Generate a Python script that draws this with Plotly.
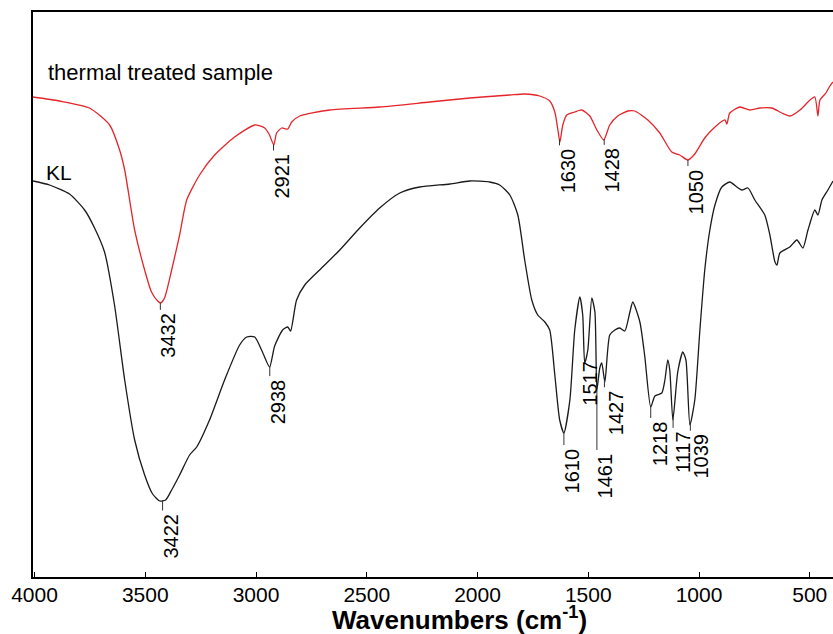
import plotly.graph_objects as go
import numpy as np

# ---- data (wavenumber cm-1, transmittance in arbitrary units) ----
thermal_wn = [4007, 3887, 3752, 3661, 3616, 3593, 3548, 3503, 3472, 3444, 3431, 3413, 3381, 3345,
              3313, 3255, 3187, 3097, 3006, 2961, 2939, 2920, 2907, 2884, 2857, 2839, 2803, 2667,
              2442, 2216, 2035, 1854, 1787, 1719, 1674, 1651, 1637, 1628, 1615, 1597, 1561, 1529,
              1493, 1461, 1430, 1403, 1367, 1321, 1290, 1231, 1177, 1123, 1087, 1050, 1019, 974,
              928, 883, 874, 861, 816, 770, 725, 671, 626, 590, 544, 499, 477, 463, 454, 427, 409, 395]
thermal_T = [480, 476, 469, 452, 427, 407, 347, 307, 285, 276, 274, 279, 307, 342,
             377, 402, 422, 440, 452, 449, 442, 432, 444, 449, 448, 455, 461, 467,
             470, 475, 479, 482, 483, 481, 476, 465, 447, 435, 452, 462, 465, 467,
             461, 447, 437, 452, 461, 466, 466, 457, 444, 425, 422, 417, 423, 439,
             450, 457, 453, 464, 470, 467, 469, 469, 464, 461, 467, 477, 480, 461, 477, 484, 491, 495]

kl_wn = [4007, 3932, 3842, 3774, 3729, 3684, 3639, 3593, 3548, 3503, 3467, 3435, 3408, 3381,
         3345, 3300, 3268, 3210, 3142, 3074, 3042, 3006, 2975, 2939, 2916, 2880, 2857, 2844,
         2817, 2780, 2713, 2622, 2532, 2442, 2351, 2261, 2125, 2035, 1945, 1900, 1854, 1818,
         1787, 1755, 1728, 1696, 1674, 1651, 1629, 1610, 1583, 1561, 1538, 1525, 1516, 1502,
         1484, 1470, 1461, 1448, 1439, 1425, 1403, 1380, 1358, 1335, 1312, 1299, 1267, 1245,
         1218, 1199, 1168, 1154, 1141, 1132, 1118, 1096, 1073, 1059, 1041, 1019, 996, 974,
         951, 928, 897, 861, 829, 807, 779, 748, 703, 680, 657, 648, 635, 590, 558, 531,
         508, 477, 463, 445, 418, 395]
kl_T = [396, 392, 383, 367, 349, 325, 272, 197, 137, 102, 83, 76, 77, 87,
        102, 122, 130, 157, 197, 232, 240, 240, 227, 210, 231, 247, 250, 246,
        277, 292, 307, 327, 349, 369, 384, 390, 393, 396, 395, 392, 382, 362,
        317, 277, 262, 255, 247, 202, 157, 144, 177, 247, 280, 262, 214, 227,
        279, 265, 187, 209, 214, 195, 242, 247, 249, 246, 265, 275, 255, 221,
        170, 181, 184, 197, 217, 207, 157, 205, 225, 217, 152, 177, 247, 307,
        347, 372, 390, 395, 390, 387, 389, 377, 362, 342, 315, 312, 324, 330, 337, 329,
        347, 367, 362, 377, 387, 396]

thermal_peaks = [3432, 2921, 1630, 1428, 1050]
kl_peaks = [3422, 2938, 1610, 1517, 1461, 1427, 1218, 1117, 1039]
tick_vals = [4000, 3500, 3000, 2500, 2000, 1500, 1000, 500]

# ---- label layout (line length below the minimum, horizontal shift of text) ----
thermal_layout = {3432: (7, 0), 2921: (6, 0), 1630: (6, 0), 1428: (6, 0), 1050: (6, 0)}
kl_layout = {3422: (10, 0), 2938: (10, 0), 1610: (12, 0), 1517: (0, -2), 1461: (60, 0),
             1427: (8, 3), 1218: (11, 1), 1117: (10, 2), 1039: (8, 3)}

RED = "#e3262b"
BLACK = "#1a1a1a"
FONT = "Liberation Sans, Arial, sans-serif"

fig = go.Figure()
fig.add_trace(go.Scatter(x=thermal_wn, y=thermal_T, mode="lines",
                         line=dict(color=RED, width=1.3, shape="spline", smoothing=0.6),
                         hoverinfo="skip"))
fig.add_trace(go.Scatter(x=kl_wn, y=kl_T, mode="lines",
                         line=dict(color=BLACK, width=1.3, shape="spline", smoothing=0.6),
                         hoverinfo="skip"))

def curve_at(wn, xs, ys):
    xs = np.asarray(xs)[::-1]
    ys = np.asarray(ys)[::-1]
    return float(np.interp(wn, xs, ys))

annotations = []
shapes = []
for peaks, lay, xs, ys in [(thermal_peaks, thermal_layout, thermal_wn, thermal_T),
                           (kl_peaks, kl_layout, kl_wn, kl_T)]:
    for p in peaks:
        length, xsh = lay[p]
        y0 = curve_at(p, xs, ys)
        y1 = y0 - length
        if length > 0:
            shapes.append(dict(type="line", xref="x", yref="y", x0=p, x1=p, y0=y0, y1=y1,
                               line=dict(color="#333333", width=1)))
        annotations.append(dict(x=p, y=y1 - 1, xref="x", yref="y", text=str(p),
                                textangle=-90, xanchor="left", yanchor="top",
                                showarrow=False, xshift=xsh - 5,
                                font=dict(family=FONT, size=20, color="black")))

annotations.append(dict(x=3932, y=505, xref="x", yref="y", text="thermal treated sample",
                        xanchor="left", yanchor="middle", showarrow=False, xshift=-4,
                        font=dict(family=FONT, size=22, color="black")))
annotations.append(dict(x=3941, y=405, xref="x", yref="y", text="KL",
                        xanchor="left", yanchor="middle", showarrow=False, xshift=-4,
                        font=dict(family=FONT, size=21, color="black")))
# axis title placed in paper coordinates (plot area spans x 33..833, y 12..577 px)
annotations.append(dict(x=(459 - 33) / 800, y=(577 - 618) / 565, xref="paper", yref="paper",
                        text="<b>Wavenumbers (cm<sup>-1</sup>)</b>", showarrow=False,
                        xanchor="center", yanchor="middle",
                        font=dict(family=FONT, size=26, color="black")))

fig.update_layout(
    width=833, height=634,
    margin=dict(l=33, r=0, t=12, b=57, autoexpand=False),
    paper_bgcolor="white", plot_bgcolor="white",
    showlegend=False,
    annotations=annotations, shapes=shapes,
    xaxis=dict(range=[4007, 395], tickvals=tick_vals, ticktext=[str(v) for v in tick_vals],
               ticks="inside", ticklen=5, tickcolor="black", tickwidth=1,
               showline=True, linecolor="black", linewidth=2, mirror=True,
               showgrid=False, zeroline=False, automargin=False, ticklabelstandoff=-2,
               tickfont=dict(family=FONT, size=21, color="black")),
    yaxis=dict(range=[0, 565], showticklabels=False, ticks="", showgrid=False,
               zeroline=False, showline=True, linecolor="black", linewidth=2,
               automargin=False),
)

fig.write_html("out.html", config={"displayModeBar": False},
               post_script="document.body.style.margin='0';document.body.style.overflow='hidden';")
